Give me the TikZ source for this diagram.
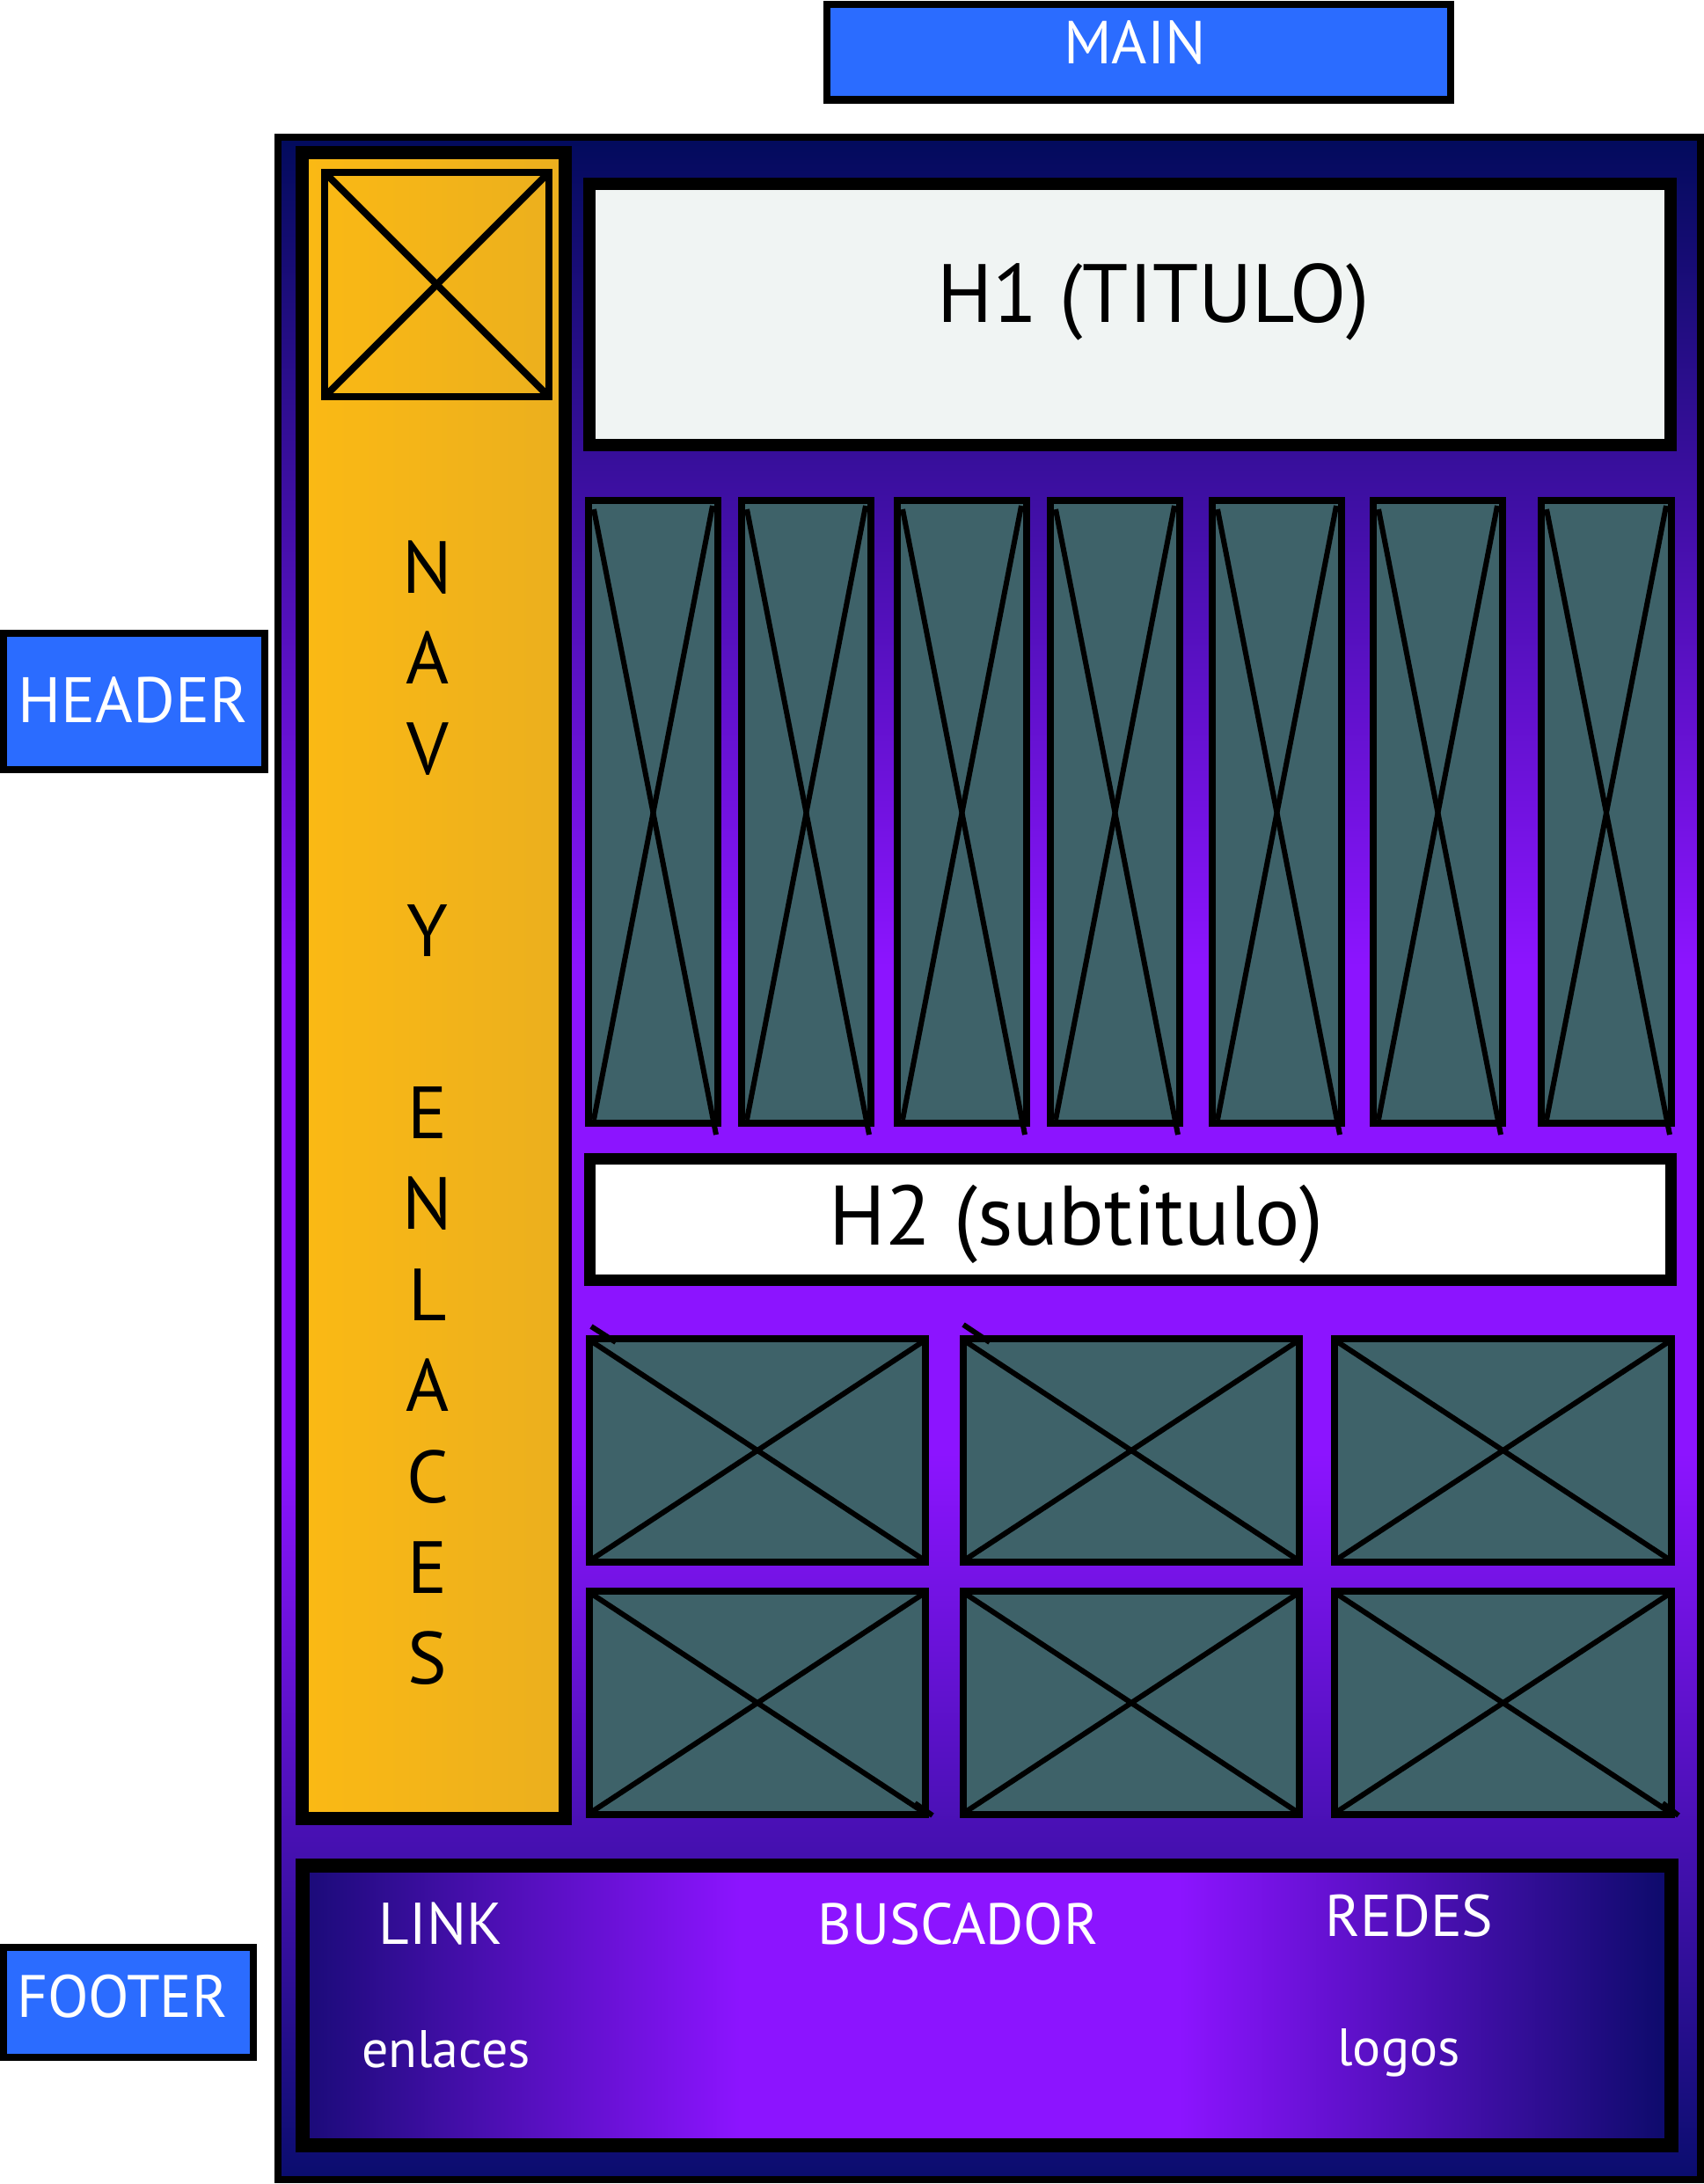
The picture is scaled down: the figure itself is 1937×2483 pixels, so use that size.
\documentclass[tikz,border=0pt]{standalone}
\usepackage{fontspec}
\setmainfont{PT Sans}
\definecolor{navytop}{HTML}{020B5C}
\definecolor{navybot}{HTML}{0A0D6E}
\definecolor{vio}{HTML}{8C14FF}
\definecolor{footL}{HTML}{1A0B78}
\definecolor{footR}{HTML}{0C0B6A}
\definecolor{navL}{HTML}{FBB914}
\definecolor{navR}{HTML}{EBAF1E}
\definecolor{slate}{HTML}{3E6269}
\definecolor{hfill}{HTML}{F0F4F3}
\definecolor{lblue}{HTML}{2B6CFF}
\pgfdeclareverticalshading{outershade}{100bp}{color(0bp)=(navybot); color(25bp)=(navybot); color(42.8bp)=(vio); color(54.7bp)=(vio); color(75bp)=(navytop); color(100bp)=(navytop)}
\pgfdeclarehorizontalshading{footshade}{100bp}{color(0bp)=(footL); color(25bp)=(footL); color(41bp)=(vio); color(57bp)=(vio); color(75bp)=(footR); color(100bp)=(footR)}
\tikzset{
  imgbox/.style={fill=slate, draw=black, line width=8pt},
  xline/.style={draw=black, line width=6pt},
  lblbox/.style={fill=lblue, draw=black, line width=8.5pt},
  lbltext/.style={text=white, inner sep=0pt, anchor=base, font=\fontsize{#1}{#1}\selectfont},
  blacktext/.style={text=black, inner sep=0pt, anchor=base, font=\fontsize{#1}{#1}\selectfont},
  navletter/.style={text=black, inner sep=0pt, anchor=base, font=\fontsize{84}{84}\selectfont},
}
\begin{document}
\begin{tikzpicture}[x=1pt,y=-1pt]
\useasboundingbox (0,0) rectangle (1937,2483);
\fill[white] (0,0) rectangle (1937,2483);
% outer container
\path[shading=outershade, draw=black, line width=8pt] (316,156) rectangle (1933,2478);
% nav column
\path[left color=navL, right color=navR, draw=black, line width=15pt] (343.5,173.5) rectangle (642.5,2067.5);
% logo
\draw[line width=8pt] (369,196) rectangle (624,451);
\draw[line width=8pt] (373,200) -- (620,447);
\draw[line width=8pt] (620,200) -- (373,447);
% H1
\path[fill=hfill, draw=black, line width=14pt] (670,209) rectangle (1899,506);
% tall image boxes
\foreach \l/\r in {669/816, 843/990, 1020/1167, 1194/1341, 1378/1525, 1561/1708, 1752/1900}{
  \path[imgbox] (\l,569) rectangle (\r,1277);
  \draw[xline] (\l+6,579) -- (\r-2,1290);
  \draw[xline] (\r-6,575) -- (\l+6,1273);
}
% H2
\path[fill=white, draw=black, line width=13pt] (670.5,1317.5) rectangle (1899.5,1455.5);
% small image boxes
\foreach \l/\r in {670/1052, 1095/1477, 1517/1900}{
  \foreach \t/\b in {1522/1776, 1809/2063}{
    \path[imgbox] (\l,\t) rectangle (\r,\b);
    \draw[xline] (\l+4,\t+4) -- (\r-4,\b-4);
    \draw[xline] (\r-4,\t+4) -- (\l+4,\b-4);
  }
}
\draw[xline] (672,1508) -- (700,1526);
\draw[xline] (1095,1506) -- (1125,1526);
\draw[xline] (1040,2050) -- (1060,2064);
\draw[xline] (1890,2050) -- (1908,2064);
% footer
\path[shading=footshade, draw=black, line width=16pt] (344,2121) rectangle (1900,2439);
% labels
\path[lblbox] (940,5) rectangle (1649,113.5);
\path[lblbox] (4,720) rectangle (301,875);
\path[lblbox] (4,2214) rectangle (288,2339);
% texts
\node[lbltext=69] (main) at (1290,73) {MAIN};
\node[lbltext=73] (header) at (151,821) {HEADER};
\node[lbltext=68] (footer) at (139,2293) {FOOTER};
\node[blacktext=94] (h1) at (1311,366) {H1 (TITULO)};
\node[blacktext=96] (h2) at (1223,1415) {H2 (subtitulo)};
\foreach \ch/\k in {N/0,A/1,V/2,Y/4,E/6,N/7,L/8,A/9,C/10,E/11,S/12}{
  \node[navletter] (nav\k) at (486,674+103.4*\k) {\ch};
}
\node[lbltext=67] (link) at (501,2210) {LINK};
\node[lbltext=60] (enlaces) at (507,2350) {enlaces};
\node[lbltext=66] (buscador) at (1089,2210) {BUSCADOR};
\node[lbltext=67] (redes) at (1602,2201) {REDES};
\node[lbltext=60] (logos) at (1590,2348) {logos};
\end{tikzpicture}
\end{document}
